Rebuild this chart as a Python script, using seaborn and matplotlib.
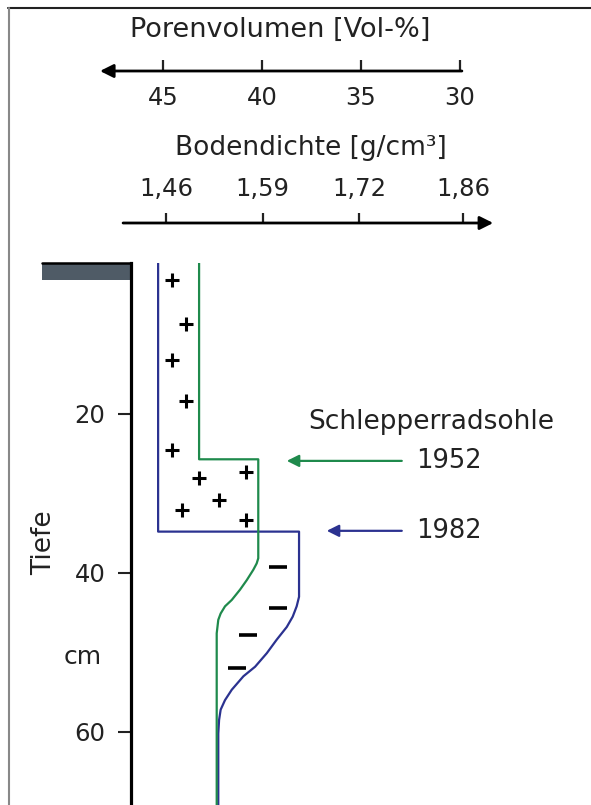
import matplotlib
matplotlib.use("Agg")
import matplotlib.pyplot as plt
import seaborn as sns
import pandas as pd
from matplotlib.lines import Line2D
from matplotlib.patches import Rectangle

# tick values of the three scales
pv_ticks = [45, 40, 35, 30]
bd_ticks = [1.46, 1.59, 1.72, 1.86]
depth_ticks = [20, 40, 60]

# profile 1982 (blue): Porenvolumen vs depth in cm
blue_pv = [45.25, 45.25, 38.13, 38.13, 38.25, 38.45, 38.75, 39.26, 39.76, 40.35,
           40.94, 41.53, 41.87, 42.09, 42.17, 42.21, 42.21]
blue_depth = [1.0, 34.8, 34.8, 43.0, 44.2, 45.5, 46.8, 48.4, 50.1, 51.8,
              53.0, 54.7, 56.0, 57.2, 58.5, 60.2, 70.0]

# profile 1952 (green)
green_pv = [43.18, 43.18, 40.19, 40.19, 40.27, 40.44, 40.77, 41.11, 41.53, 41.87,
            42.09, 42.21, 42.29, 42.29]
green_depth = [1.0, 25.7, 25.7, 38.15, 38.8, 39.6, 40.9, 42.1, 43.4, 44.2,
               45.1, 45.9, 47.6, 70.0]

# + and - signs
plus_pv = [44.56, 43.85, 44.56, 43.85, 44.56, 43.17, 40.82, 42.19, 44.03, 40.82]
plus_depth = [3.1, 8.7, 13.2, 18.4, 24.5, 28.0, 27.3, 30.8, 32.1, 33.3]
minus_pv = [39.18, 39.18, 40.69, 41.28]
minus_depth = [39.3, 44.4, 47.8, 51.9]

years = ["1952", "1982"]
year_depth = [25.9, 34.7]
year_tip_pv = [38.75, 36.73]

blue = "#2b3290"
green = "#1f8a4c"
txt = "#222222"

sns.set_style("white")
plt.rcParams["font.family"] = ["DejaVu Sans"]
plt.rcParams["font.size"] = 17

W, H = 591, 805
fig = plt.figure(figsize=(W / 100, H / 100), dpi=100)


def fx(px):
    return px / W


def fy(py):
    return 1 - py / H


# frame lines
fig.add_artist(Line2D([fx(8), 1], [fy(8), fy(8)], color="#222222", lw=1.5))
fig.add_artist(Line2D([fx(8.5), fx(8.5)], [fy(8), 0], color="#888888", lw=1.5))

# main profile axes
ax = fig.add_axes([fx(131), 0, fx(591 - 131), fy(263)])
ax.set_xlim(46.62, 23.38)
ax.set_ylim(69.2, 1.0)
for s in ["top", "right", "bottom"]:
    ax.spines[s].set_visible(False)
ax.spines["left"].set_linewidth(2.3)
ax.spines["left"].set_color("black")
ax.set_xticks([])
ax.set_yticks(depth_ticks)
ax.tick_params(axis="y", direction="out", length=9.5, width=1.5, pad=9,
               labelsize=17.5, left=True, colors=txt)

blue_df = pd.DataFrame({"pv": blue_pv, "depth": blue_depth})
green_df = pd.DataFrame({"pv": green_pv, "depth": green_depth})
sns.lineplot(data=blue_df, x="pv", y="depth", sort=False, estimator=None,
             color=blue, lw=1.6, ax=ax)
sns.lineplot(data=green_df, x="pv", y="depth", sort=False, estimator=None,
             color=green, lw=1.6, ax=ax)
sns.scatterplot(x=plus_pv, y=plus_depth, marker="+", s=110, linewidth=2.2,
                color="black", ax=ax, zorder=5)
sns.scatterplot(x=minus_pv, y=minus_depth, marker="_", s=150, linewidth=2.6,
                color="black", ax=ax, zorder=5)
ax.set_xlabel("")
ax.set_ylabel("")

# grey surface bar
ax.add_patch(Rectangle((-0.193, 0.9686), 0.193, 0.0314, transform=ax.transAxes,
                       facecolor="#4f5b66", edgecolor="none", clip_on=False))
ax.add_line(Line2D([-0.193, 0], [1, 1], transform=ax.transAxes, color="black",
                   lw=1.8, clip_on=False))

# arrows to the plough pans
for yr, d, tip, col in zip(years, year_depth, year_tip_pv, [green, blue]):
    ax.annotate("", xy=(tip, d), xytext=(32.94, d),
                arrowprops=dict(arrowstyle="-|>", color=col, lw=1.6,
                                mutation_scale=18, shrinkA=0, shrinkB=0))
    ax.text(32.19, d, yr, ha="left", va="center", fontsize=18.5, color=txt)
ax.text(37.68, 20.97, "Schlepperradsohle", ha="left", va="center",
        fontsize=19, color=txt)

fig.text(fx(44), fy(543), "Tiefe", rotation=90, ha="center", va="center",
         fontsize=19, color=txt)
fig.text(fx(83), fy(657), "cm", ha="center", va="center", fontsize=18,
         color=txt)

# Porenvolumen scale (top)
ax_pv = fig.add_axes([0, fy(71), 1, 0.04])
ax_pv.set_xlim(53.23, 23.38)
ax_pv.set_ylim(0, 1)
for s in ax_pv.spines.values():
    s.set_visible(False)
ax_pv.set_yticks([])
ax_pv.set_xticks(pv_ticks)
ax_pv.set_xticklabels([str(t) for t in pv_ticks])
ax_pv.tick_params(axis="x", direction="in", length=8, width=1.6, pad=10.5,
                  labelsize=17.5, bottom=True, colors=txt)
ax_pv.patch.set_alpha(0)
ax_pv.annotate("", xy=(48.18, 0), xytext=(29.9, 0),
               xycoords=("data", "axes fraction"),
               textcoords=("data", "axes fraction"),
               arrowprops=dict(arrowstyle="-|>", color="black", lw=2,
                               mutation_scale=20, shrinkA=0, shrinkB=0),
               annotation_clip=False)
fig.text(fx(280), fy(30), "Porenvolumen [Vol-%]", ha="center", va="center",
         fontsize=19.5, color=txt)

# Bodendichte scale
ax_bd = fig.add_axes([0, fy(223) - 0.04, 1, 0.04])
ax_bd.set_xlim(1.2364, 2.0316)
ax_bd.set_ylim(0, 1)
for s in ax_bd.spines.values():
    s.set_visible(False)
ax_bd.set_yticks([])
ax_bd.set_xticks(bd_ticks)
ax_bd.set_xticklabels([f"{t:.2f}".replace(".", ",") for t in bd_ticks])
ax_bd.xaxis.set_ticks_position("top")
ax_bd.xaxis.set_label_position("top")
ax_bd.tick_params(axis="x", direction="out", length=7, width=1.6, pad=8.5,
                  labelsize=17.5, top=True, bottom=False, labeltop=True,
                  labelbottom=False, colors=txt)
ax_bd.patch.set_alpha(0)
ax_bd.annotate("", xy=(1.90, 1), xytext=(1.402, 1),
               xycoords=("data", "axes fraction"),
               textcoords=("data", "axes fraction"),
               arrowprops=dict(arrowstyle="-|>", color="black", lw=2,
                               mutation_scale=20, shrinkA=0, shrinkB=0),
               annotation_clip=False)
fig.text(fx(311), fy(148), "Bodendichte [g/cm³]", ha="center", va="center",
         fontsize=19, color=txt)

fig.savefig("out.png", dpi=100)
